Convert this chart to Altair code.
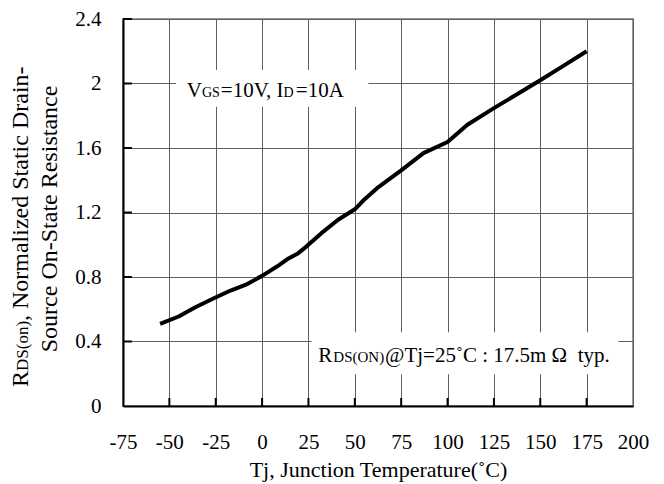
import altair as alt
import pandas as pd

FONT = "Liberation Serif"

# Curve data
temps = [-55, -45, -36, -26, -17, -9, 0, 8, 13.5, 19.5, 24, 32, 41, 50, 55, 62, 75, 87,
         100, 110.7, 125, 137, 150, 162, 175]
rds = [0.51, 0.555, 0.612, 0.668, 0.716, 0.751, 0.807, 0.865, 0.91, 0.948, 0.99, 1.072,
       1.155, 1.22, 1.279, 1.351, 1.461, 1.568, 1.637, 1.744, 1.847, 1.93,
       2.02, 2.106, 2.2]

x_ticks = [-75, -50, -25, 0, 25, 50, 75, 100, 125, 150, 175, 200]
y_ticks = [0, 0.4, 0.8, 1.2, 1.6, 2.0, 2.4]

x_title = "Tj, Junction Temperature(˚C)"

# annotation boxes (data units)
box_t1 = [-46.4, 26.7]
box_t2 = [57.3, 192.1]
box_r1 = [1.856, 0.197]
box_r2 = [2.084, 0.457]

# annotation text pieces: text, x, y, size, align
ann_text = ["V", "GS", "=10V, I", "D", "=10A",
            "R", "DS(ON)", "@Tj=25˚C : 17.5m\u00a0Ω\u00a0\u00a0typ."]
ann_x = [-32.4, -32.4, 11.6, 11.6, 18.2,
         30.3, 38.4, 66.3]
ann_y = [1.914, 1.914, 1.914, 1.914, 1.914,
         0.275, 0.275, 0.275]
ann_size = [21, 14, 21, 14, 21,
            21, 15, 21]
ann_align = ["right", "left", "right", "left", "left",
             "left", "left", "left"]

# y-axis title pieces (rotated)
yt_text = ["R", "DS(on)", ", Normalized Static Drain-"]
yt_x = [-126.2, -126.2, -126.2]
yt_y = [0.118, 0.217, 0.527]
yt_size = [24, 17, 24]
yt2_text = "Source On-State Resistance"
yt2_x = -110.6
yt2_y = 1.16

xs = alt.Scale(domain=[-75, 200], nice=False, zero=False)
ys = alt.Scale(domain=[0, 2.4], nice=False, zero=False)


def X(field="T"):
    return alt.X(f"{field}:Q", scale=xs, title=x_title)


def Y(field="R"):
    return alt.Y(f"{field}:Q", scale=ys, title=None)


curve = pd.DataFrame({"T": temps, "R": rds})

line = alt.Chart(curve).mark_line(color="black", strokeWidth=4, strokeJoin="round").encode(
    x=alt.X("T:Q", scale=xs, title=x_title,
            axis=alt.Axis(values=x_ticks, labelExpr="'' + datum.value", grid=True,
                          tickSize=0, labelPadding=25, titlePadding=7)),
    y=alt.Y("R:Q", scale=ys, title=None,
            axis=alt.Axis(values=y_ticks, format=".1~f", grid=True, tickSize=0,
                          labelPadding=22)),
)

boxes = alt.Chart(pd.DataFrame({"T": box_t1, "T2": box_t2, "R": box_r1, "R2": box_r2})).mark_rect(
    fill="white").encode(x=X(), x2="T2:Q", y=Y(), y2="R2:Q")

xt = pd.DataFrame({"T": x_ticks[1:-1], "R": [0] * (len(x_ticks) - 2),
                   "R2": [0.05] * (len(x_ticks) - 2)})
xtick_rules = alt.Chart(xt).mark_rule(color="black", strokeWidth=2).encode(
    x=X(), y=Y(), y2="R2:Q")

yt = pd.DataFrame({"T": [-75] * (len(y_ticks) - 1), "T2": [-70.2] * (len(y_ticks) - 1),
                   "R": y_ticks[1:]})
ytick_rules = alt.Chart(yt).mark_rule(color="black", strokeWidth=2).encode(
    x=X(), x2="T2:Q", y=Y())

layers = [boxes, xtick_rules, ytick_rules, line]

for t, x, y, s, a in zip(ann_text, ann_x, ann_y, ann_size, ann_align):
    layers.append(alt.Chart(pd.DataFrame({"T": [x], "R": [y], "txt": [t]})).mark_text(
        font=FONT, fontSize=s, align=a, baseline="alphabetic", color="black").encode(
        x=X(), y=Y(), text="txt:N"))

for t, x, y, s in zip(yt_text, yt_x, yt_y, yt_size):
    layers.append(alt.Chart(pd.DataFrame({"T": [x], "R": [y], "txt": [t]})).mark_text(
        font=FONT, fontSize=s, align="left", baseline="alphabetic", angle=270,
        color="black").encode(x=X(), y=Y(), text="txt:N"))

layers.append(alt.Chart(pd.DataFrame({"T": [yt2_x], "R": [yt2_y], "txt": [yt2_text]})).mark_text(
    font=FONT, fontSize=24, align="center", baseline="alphabetic", angle=270,
    color="black").encode(x=X(), y=Y(), text="txt:N"))

chart = alt.layer(*layers).properties(
    width=510, height=387,
    autosize=alt.AutoSizeParams(type="none"),
    padding={"left": 115, "top": 11, "right": 19, "bottom": 76},
).configure_view(
    stroke="#9a9a9a", strokeWidth=2
).configure_axis(
    labelFont=FONT, labelFontSize=21, labelColor="black",
    titleFont=FONT, titleFontSize=22, titleFontWeight="normal", titleColor="black",
    domainColor="black", domainWidth=2, gridColor="#606060", gridWidth=1,
    labelFlush=False, ticks=False,
)

chart.save("out.html", embed_options={"renderer": "svg", "actions": False})
